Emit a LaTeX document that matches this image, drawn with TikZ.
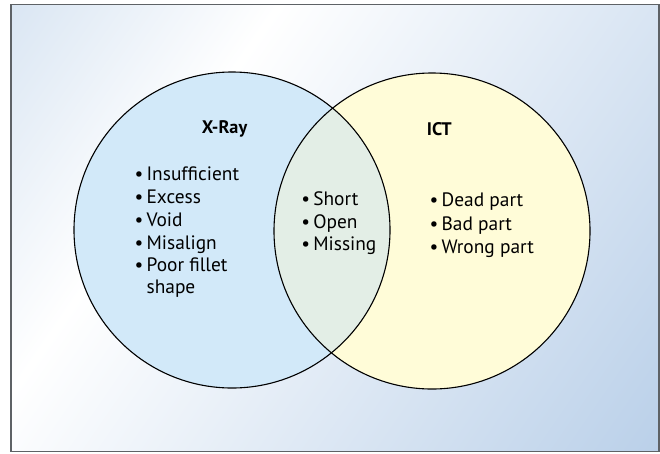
\documentclass[tikz,border=0pt]{standalone}
\usepackage{fontspec}
\setmainfont{PT Sans}

\definecolor{bgA}{HTML}{DAE6F3}
\definecolor{bgB}{HTML}{BAD0E9}
\definecolor{framegray}{HTML}{5E6266}
\definecolor{xrayfill}{HTML}{D2E9F9}
\definecolor{ictfill}{HTML}{FFFCD8}
\definecolor{bothfill}{HTML}{E3EEE6}

% diagonal background wash: pale blue -> white -> blue
\pgfdeclarehorizontalshading{panelshade}{100bp}{%
  color(0bp)=(bgA); color(25bp)=(bgA); color(39bp)=(white);
  color(75bp)=(bgB); color(100bp)=(bgB)}

\tikzset{
  setline/.style={draw=black, line width=1.1pt},
  itemtext/.style={anchor=base west, inner sep=0pt, font=\fontsize{19.4}{23}\selectfont},
  headtext/.style={anchor=base west, inner sep=0pt, font=\fontsize{18.2}{22}\selectfont\bfseries},
}
\newcommand{\bulitem}[1]{\makebox[11.9pt][l]{•}#1}

\begin{document}
\begin{tikzpicture}[x=1pt,y=-1pt]
  \useasboundingbox (0,0) rectangle (660,453);
  \fill[white] (0,0) rectangle (660,453);

  % framed panel with its gradient
  \begin{scope}
    \clip (11,4.5) rectangle (659,451.5);
    \shade[shading=panelshade, shading angle=-34.6]
      (335-393.6,228-393.6) rectangle (335+393.6,228+393.6);
  \end{scope}
  \draw[framegray, line width=1.5pt] (11,4.5) rectangle (659,451.5);

  % the two sets and their overlap
  \coordinate (cx) at (232,230);
  \coordinate (ci) at (432,231);
  \fill[xrayfill] (cx) circle[radius=158pt];
  \fill[ictfill] (ci) circle[radius=158pt];
  \begin{scope}
    \clip (cx) circle[radius=158pt];
    \fill[bothfill] (ci) circle[radius=158pt];
  \end{scope}
  \draw[setline] (cx) circle[radius=158pt];
  \draw[setline] (ci) circle[radius=158pt];

  % headings
  \node[headtext] (hx) at (201.7,133.3) {X-Ray};
  \node[headtext] (hi) at (426.7,135) {ICT};

  % X-Ray only
  \node[itemtext] (x1) at (134.5,180.7) {\bulitem{Insufficient}};
  \node[itemtext] (x2) at (134.5,203.3) {\bulitem{Excess}};
  \node[itemtext] (x3) at (134.5,226.7) {\bulitem{Void}};
  \node[itemtext] (x4) at (134.5,249.3) {\bulitem{Misalign}};
  \node[itemtext] (x5) at (134.5,271.7) {\bulitem{Poor fillet}};
  \node[itemtext] (x6) at (146.4,293.3) {shape};

  % both
  \node[itemtext] (b1) at (301.2,205.7) {\bulitem{Short}};
  \node[itemtext] (b2) at (301.2,228.3) {\bulitem{Open}};
  \node[itemtext] (b3) at (301.2,250.7) {\bulitem{Missing}};

  % ICT only
  \node[itemtext] (i1) at (429.5,206.7) {\bulitem{Dead part}};
  \node[itemtext] (i2) at (429.5,230) {\bulitem{Bad part}};
  \node[itemtext] (i3) at (429.5,253.3) {\bulitem{Wrong part}};
\end{tikzpicture}
\end{document}
